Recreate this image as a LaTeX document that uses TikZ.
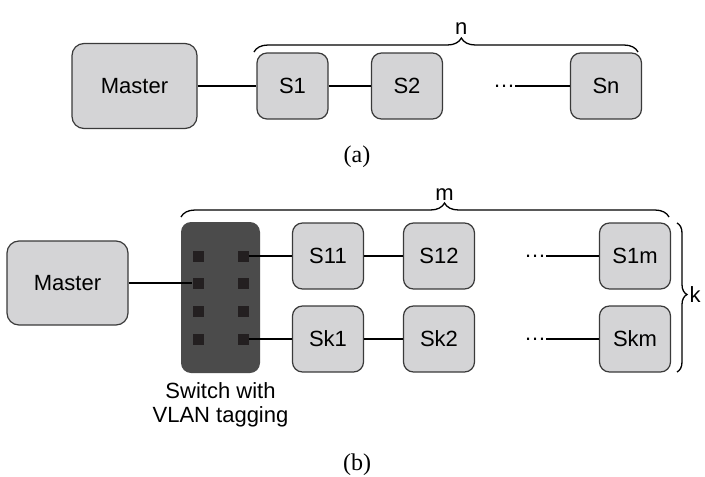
\documentclass[tikz,border=0pt]{standalone}
\usepackage{fontspec}
\setmainfont{Liberation Sans}
\newfontfamily\capfont{Liberation Serif}
\usetikzlibrary{positioning,decorations.pathreplacing}

\definecolor{boxfill}{HTML}{D4D4D6}
\definecolor{boxline}{HTML}{3A3A3A}
\definecolor{swfill}{HTML}{4B4B4B}
\definecolor{portfill}{HTML}{231F20}

\tikzset{
  box/.style={draw=boxline,fill=boxfill,line width=1.2pt,rounded corners=10pt,
    minimum width=71pt,minimum height=66pt,inner sep=0pt,
    font=\fontsize{22}{25}\selectfont},
  port/.style={fill=portfill,minimum size=11pt,inner sep=0pt},
  link/.style={line width=1.3pt},
  dotsnode/.style={inner sep=0pt,font=\fontsize{22}{25}\selectfont},
  bracelabel/.style={font=\fontsize{22}{25}\selectfont},
  caption/.style={font=\capfont\fontsize{24}{28}\selectfont}
}

\begin{document}
\begin{tikzpicture}[x=1pt,y=-1pt]
\useasboundingbox (0,0) rectangle (705,477);

% (a)
\node[box,minimum width=125pt,minimum height=85pt,rounded corners=12pt] (master) at (134.5,86) {Master};
\node[box] (s1) at (292.5,86) {S1};
\node[box] (s2) at (407,86) {S2};
\node[box] (sn) at (606,86) {Sn};
\node[dotsnode] (dotsa) at (504,86) {…};

\draw[link] (master)--(s1);
\draw[link] (s1)--(s2);
\draw[link] (dotsa)--(sn);

% pomozne tocke
\coordinate (na) at (254,52);
\coordinate (nb) at (638,52);
\draw[link,decorate,decoration={brace,amplitude=14pt,aspect=0.54}] (na)--(nb)
  node[bracelabel,pos=0.54,above=14pt] {n};

\node[caption] (capa) at (357,157) {(a)};

% (b)
\node[box,minimum width=121pt,minimum height=84pt,rounded corners=12pt] (master2) at (67.5,283) {Master};
\node[fill=swfill,rounded corners=10pt,minimum width=79pt,minimum height=151pt] (sw) at (220.5,297.5) {};
\foreach \i/\y in {1/256,2/283,3/311,4/339} {
  \node[port] (pl\i) at (198,\y) {};
  \node[port] (pr\i) at (243,\y) {};
}
\node[below=6pt of sw,align=center,font=\fontsize{22}{24}\selectfont] (swlabel) {Switch with\\VLAN tagging};

\node[box] (s11) at (328,256) {S11};
\node[box] (s12) at (439,256) {S12};
\node[box] (s1m) at (635,256) {S1m};
\node[box] (sk1) at (328,339) {Sk1};
\node[box] (sk2) at (439,339) {Sk2};
\node[box] (skm) at (635,339) {Skm};
\node[dotsnode] (dots1) at (535,256) {…};
\node[dotsnode] (dots2) at (535,339) {…};

\draw[link] (master2.east)--(pl2.west);
\draw[link] (pr1.east)--(s11);
\draw[link] (s11)--(s12);
\draw[link] (dots1)--(s1m);
\draw[link] (pr4.east)--(sk1);
\draw[link] (sk1)--(sk2);
\draw[link] (dots2)--(skm);

\coordinate (ma) at (181,217);
\coordinate (mb) at (669,217);
\draw[link,decorate,decoration={brace,amplitude=14pt,aspect=0.54}] (ma)--(mb)
  node[bracelabel,pos=0.54,above=13pt] {m};

\coordinate (ka) at (677,223);
\coordinate (kb) at (677,372);
\draw[link,decorate,decoration={brace,amplitude=10pt,aspect=0.48}] (ka)--(kb)
  node[bracelabel,pos=0.48,right=11pt,inner sep=1pt] {k};

\node[caption] (capb) at (357,465) {(b)};
\end{tikzpicture}
\end{document}
